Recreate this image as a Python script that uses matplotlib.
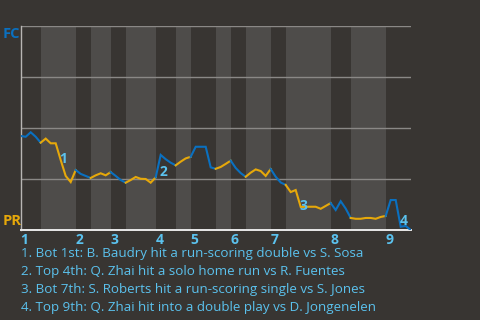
import matplotlib
matplotlib.use("Agg")
import matplotlib.pyplot as plt

# ---- data ----
# plays per half-inning (top 1st, bot 1st, top 2nd, ...)
plays_per_half = [4, 7, 3, 4, 3, 6, 4, 3, 5, 3, 3, 5, 3, 9, 4, 7, 5]
# FC win probability after each play (index 0 = start of game)
win_prob = [0.461, 0.457, 0.479, 0.457, 0.428,
            0.448, 0.425, 0.425, 0.343, 0.265, 0.235, 0.294,
            0.275, 0.265, 0.255,
            0.268, 0.278, 0.268, 0.284,
            0.265, 0.245, 0.232,
            0.245, 0.260, 0.251, 0.250, 0.232, 0.258,
            0.368, 0.347, 0.330, 0.317,
            0.335, 0.351, 0.359,
            0.408, 0.408, 0.408, 0.307, 0.300,
            0.309, 0.324, 0.340,
            0.304, 0.279, 0.261,
            0.281, 0.297, 0.289, 0.265, 0.299,
            0.261, 0.233, 0.221,
            0.186, 0.196, 0.113, 0.114, 0.114, 0.114, 0.104, 0.118, 0.132,
            0.098, 0.141, 0.105, 0.059,
            0.055, 0.055, 0.059, 0.059, 0.055, 0.064, 0.069,
            0.147, 0.147, 0.016, 0.020, 0.000]
inning_labels = ["1", "2", "3", "4", "5", "6", "7", "8", "9"]
event_numbers = ["1", "2", "3", "4"]
event_plays = [8, 28, 56, 76]
event_label_prob = [0.346, 0.282, 0.118, 0.044]
event_texts = [
    "1. Bot 1st: B. Baudry hit a run-scoring double vs S. Sosa",
    "2. Top 4th: Q. Zhai hit a solo home run vs R. Fuentes",
    "3. Bot 7th: S. Roberts hit a run-scoring single vs S. Jones",
    "4. Top 9th: Q. Zhai hit into a double play vs D. Jongenelen",
]
team_top = "FC"
team_bottom = "PR"

# ---- style ----
BG = "#383532"
BAND = "#4e4c4a"
BLUE = "#0a70c0"
YELLOW = "#e6a80a"
LABEL = "#5bc2ee"
GRID = "#8a8886"
FONT = "Open Sans"

W, H = 480, 320
fig = plt.figure(figsize=(W / 100, H / 100), dpi=100, facecolor=BG)
ax = fig.add_axes([20.7 / W, (H - 230) / H, 390 / W, 204 / H])
ax.set_facecolor(BG)

bounds = [0]
for n in plays_per_half:
    bounds.append(bounds[-1] + n)
total = bounds[-1]

for h in range(len(plays_per_half)):
    a, b = bounds[h], bounds[h + 1]
    if h % 2 == 1:
        ax.axvspan(a, b, color=BAND, lw=0, zorder=0)

for yv in [0.25, 0.5, 0.75, 1.0]:
    ax.axhline(yv, color=GRID, lw=1.0, zorder=1)

for h in range(len(plays_per_half)):
    a, b = bounds[h], bounds[h + 1]
    xs = list(range(a, b + 1))
    ys = win_prob[a:b + 1]
    ax.plot(xs, ys, color=BLUE if h % 2 == 0 else YELLOW, lw=1.5,
            solid_joinstyle="miter", zorder=3)

for num, p, yv in zip(event_numbers, event_plays, event_label_prob):
    ax.text(p + 0.56, yv, num, color=LABEL, fontsize=10, fontweight="bold",
            family=FONT, ha="center", va="center", zorder=4)

ax.set_xlim(0, total)
ax.set_ylim(0, 1)
for s in ["top", "right"]:
    ax.spines[s].set_visible(False)
ax.spines["left"].set_color("#b8b6b4")
ax.spines["left"].set_linewidth(1.0)
ax.spines["bottom"].set_color("#e8e8e8")
ax.spines["bottom"].set_linewidth(1.4)
ax.set_yticks([])

inning_starts = [bounds[2 * i] for i in range(9)]
ax.set_xticks(inning_starts)
ax.set_xticklabels(inning_labels, ha="left", color=LABEL, fontsize=10,
                   fontweight="bold", family=FONT)
ax.tick_params(axis="x", length=0, pad=2)

fig.text(2.7 / W, 1 - 27 / H, team_top, color=BLUE, fontsize=10.5,
         fontweight="bold", family=FONT, ha="left", va="top")
fig.text(2.7 / W, 1 - 228 / H, team_bottom, color=YELLOW, fontsize=10.5,
         fontweight="bold", family=FONT, ha="left", va="bottom")

for i, t in enumerate(event_texts):
    fig.text(21 / W, 1 - (254 + 18 * i) / H, t, color=LABEL, fontsize=9.6,
             family=FONT, ha="left", va="center")

fig.savefig("out.png", dpi=100, facecolor=BG)
